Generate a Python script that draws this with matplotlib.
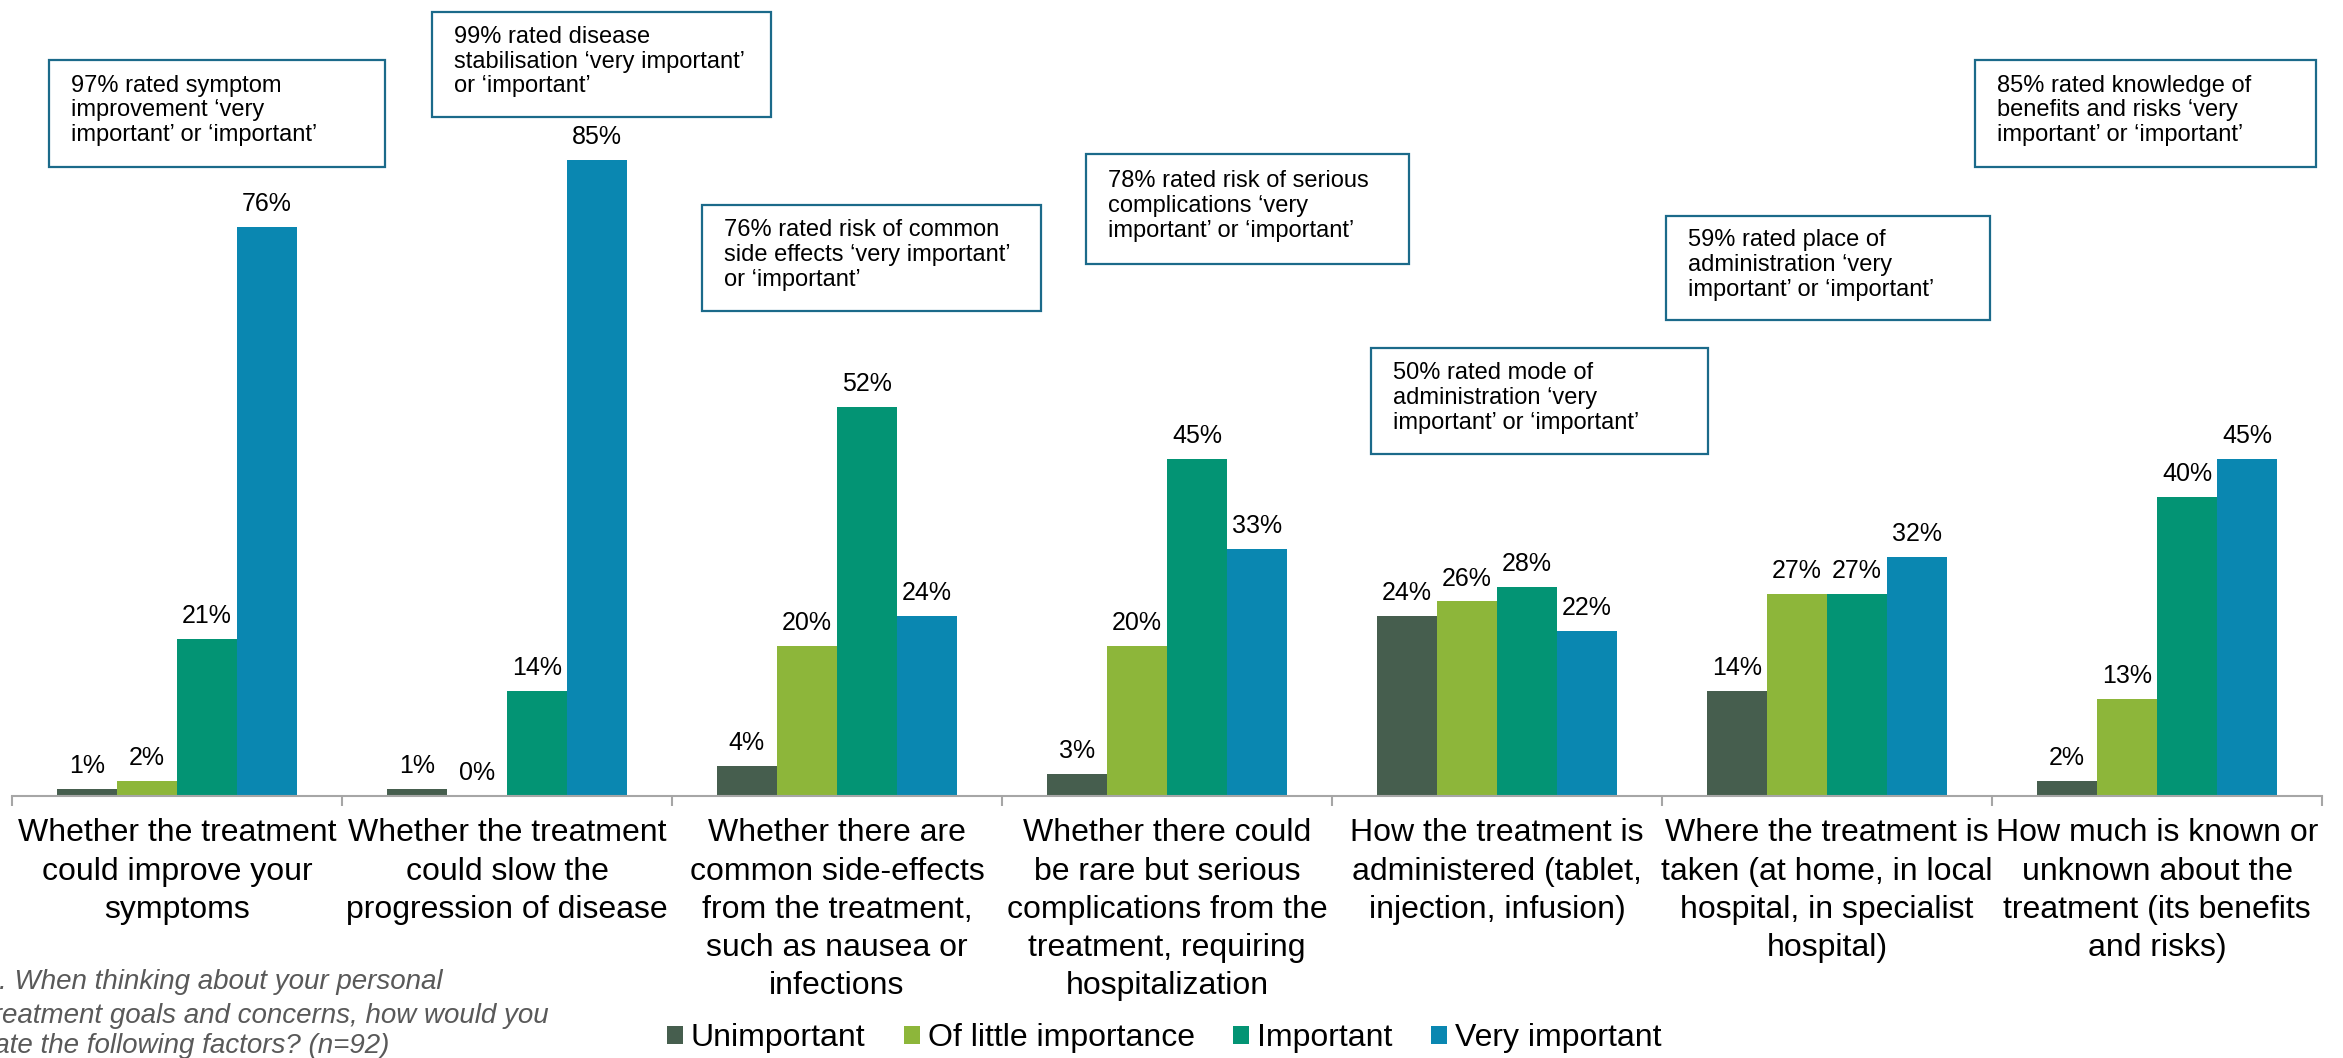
import matplotlib
matplotlib.use('Agg')
import matplotlib.pyplot as plt
import numpy as np
from matplotlib.patches import Rectangle

plt.rcParams['font.family'] = ['Liberation Sans', 'DejaVu Sans']

categories = [
    "Whether the treatment\ncould improve your\nsymptoms",
    "Whether the treatment\ncould slow the\nprogression of disease",
    "Whether there are\ncommon side-effects\nfrom the treatment,\nsuch as nausea or\ninfections",
    "Whether there could\nbe rare but serious\ncomplications from the\ntreatment, requiring\nhospitalization",
    "How the treatment is\nadministered (tablet,\ninjection, infusion)",
    "Where the treatment is\ntaken (at home, in local\nhospital, in specialist\nhospital)",
    "How much is known or\nunknown about the\ntreatment (its benefits\nand risks)",
]
series_names = ["Unimportant", "Of little importance", "Important", "Very important"]
unimportant = [1, 1, 4, 3, 24, 14, 2]
of_little_importance = [2, 0, 20, 20, 26, 27, 13]
important = [21, 14, 52, 45, 28, 27, 40]
very_important = [76, 85, 24, 33, 22, 32, 45]
colors = ["#465E4E", "#8DB63A", "#039474", "#0A87B1"]

annotation_texts = [
    "97% rated symptom\nimprovement \u2018very\nimportant\u2019 or \u2018important\u2019",
    "99% rated disease\nstabilisation \u2018very important\u2019\nor \u2018important\u2019",
    "76% rated risk of common\nside effects \u2018very important\u2019\nor \u2018important\u2019",
    "78% rated risk of serious\ncomplications \u2018very\nimportant\u2019 or \u2018important\u2019",
    "50% rated mode of\nadministration \u2018very\nimportant\u2019 or \u2018important\u2019",
    "59% rated place of\nadministration \u2018very\nimportant\u2019 or \u2018important\u2019",
    "85% rated knowledge of\nbenefits and risks \u2018very\nimportant\u2019 or \u2018important\u2019",
]
# box layout in pixels: left, top, right, bottom
annotation_boxes = [
    (49, 60, 385, 167),
    (432, 12, 771, 117),
    (702, 205, 1041, 311),
    (1086, 154, 1409, 264),
    (1371, 348, 1708, 454),
    (1666, 216, 1990, 320),
    (1975, 60, 2316, 167),
]
question_lines = [
    "Q9. When thinking about your personal",
    "treatment goals and concerns, how would you",
    "rate the following factors? (n=92)",
]

W, H = 2343, 1058
fig = plt.figure(figsize=(W / 100, H / 100), dpi=100)
ax = fig.add_axes([12 / W, 1 - 796 / H, 2310 / W, 796 / H])

x = np.arange(len(categories))
bw = 0.182
series = [unimportant, of_little_importance, important, very_important]
handles = []
for j, (vals, c, name) in enumerate(zip(series, colors, series_names)):
    pos = x + (j - 1.5) * bw
    b = ax.bar(pos, vals, bw, color=c, label=name, edgecolor='none')
    handles.append(b)
    for p, v in zip(pos, vals):
        ax.annotate(f"{v}%", (p, v), xytext=(0, 11.5), textcoords='offset points',
                    ha='center', va='baseline', fontsize=18, color='black')

ax.set_xlim(-0.5, len(categories) - 0.5)
ax.set_ylim(0, 106.4)
ax.set_yticks([])
for s in ['top', 'left', 'right']:
    ax.spines[s].set_visible(False)
ax.spines['bottom'].set_color('#A6A6A6')
ax.spines['bottom'].set_linewidth(1.5)
ax.set_xticks(x, categories, fontsize=23, linespacing=1.36)
ax.tick_params(axis='x', which='major', length=0, pad=16)
ax.set_xticks(np.arange(len(categories) + 1) - 0.5, minor=True)
ax.tick_params(axis='x', which='minor', length=7.5, width=1.5, color='#A6A6A6')

for txt, (l, t, r, b) in zip(annotation_texts, annotation_boxes):
    rect = Rectangle((l / W, 1 - b / H), (r - l) / W, (b - t) / H,
                     transform=fig.transFigure, fill=False,
                     edgecolor='#1B6A8A', linewidth=1.6)
    fig.add_artist(rect)
    fig.text((l + 22) / W, 1 - ((t + b) / 2 - 3) / H, txt, fontsize=17,
             ha='left', va='center', linespacing=1.16, color='black')

q_pos = [(-38, 982), (-15, 1016), (-15, 1046)]
for line, (qx, qy) in zip(question_lines, q_pos):
    fig.text(qx / W, 1 - qy / H, line, fontsize=20, style='italic',
             color='#595959', ha='left', va='center')

fig.legend(handles=handles, labels=series_names, loc='center',
           bbox_to_anchor=(1164 / W, 1 - 1038 / H), ncol=4, frameon=False,
           fontsize=23, handlelength=0.5, handleheight=0.5, handletextpad=0.25,
           columnspacing=1.2, borderpad=0, borderaxespad=0)

fig.savefig('out.png', dpi=100)
